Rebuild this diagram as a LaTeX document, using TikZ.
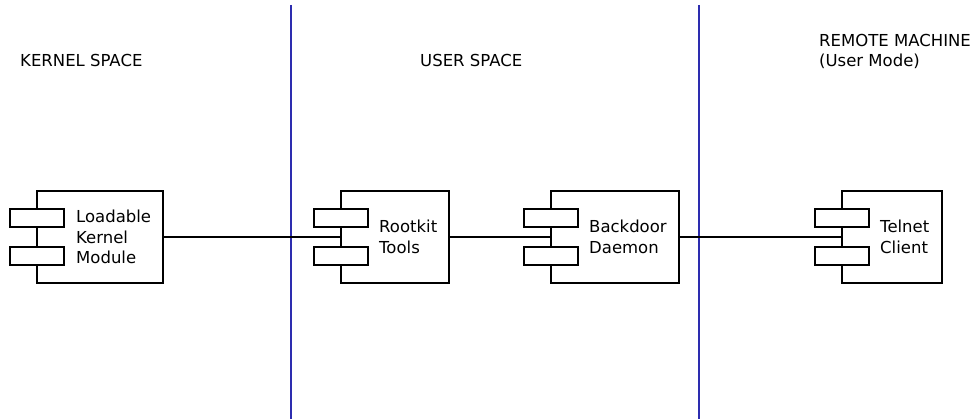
\documentclass[tikz,border=0pt]{standalone}
\usepackage{fontspec}
\setmainfont{DejaVu Sans}
\begin{document}
\begin{tikzpicture}[x=1pt,y=-1pt,
  comp/.style={draw, line width=1.7pt, fill=white, inner sep=0pt, outer sep=0pt, minimum height=92pt},
  port/.style={draw, line width=1.7pt, fill=white, minimum width=54pt, minimum height=18pt, inner sep=0pt},
  lbl/.style={anchor=west, align=left, font=\fontsize{16.5}{20.5}\selectfont, inner sep=0pt},
  head/.style={anchor=base west, align=left, font=\fontsize{16.5}{20.5}\selectfont, inner sep=0pt},
  conn/.style={line width=1.7pt},
  divider/.style={draw={rgb,255:red,45;green,45;blue,175}, line width=1.1pt}]
\useasboundingbox (0,0) rectangle (979,419);
% dividers
\draw[divider] (291,5) -- (291,419);
\draw[divider] (699,5) -- (699,419);
% headings
\node[head] (hk) at (20,67) {KERNEL SPACE};
\node[head] (hu) at (420,67) {USER SPACE};
\node[head] (hr) at (819,67) {REMOTE MACHINE\\(User Mode)};
% components
\node[comp, minimum width=126pt] (lkm) at (100,237) {};
\node[comp, minimum width=108pt] (rt) at (395,237) {};
\node[comp, minimum width=128pt] (bd) at (615,237) {};
\node[comp, minimum width=100pt] (tc) at (892,237) {};
% connectors
\draw[conn] (lkm.east) -- (rt.west);
\draw[conn] (rt.east) -- (bd.west);
\draw[conn] (bd.east) -- (tc.west);
% ports
\foreach \c in {lkm,rt,bd,tc}{
  \node[port] (\c-p1) at ([yshift=-19pt]\c.west) {};
  \node[port] (\c-p2) at ([yshift=19pt]\c.west) {};
}
% labels
\node[lbl] (lkm-t) at ([xshift=39pt]lkm.west) {Loadable\\Kernel\\Module};
\node[lbl] (rt-t) at ([xshift=38pt]rt.west) {Rootkit\\Tools};
\node[lbl] (bd-t) at ([xshift=38pt]bd.west) {Backdoor\\Daemon};
\node[lbl] (tc-t) at ([xshift=38pt]tc.west) {Telnet\\Client};
\end{tikzpicture}
\end{document}
